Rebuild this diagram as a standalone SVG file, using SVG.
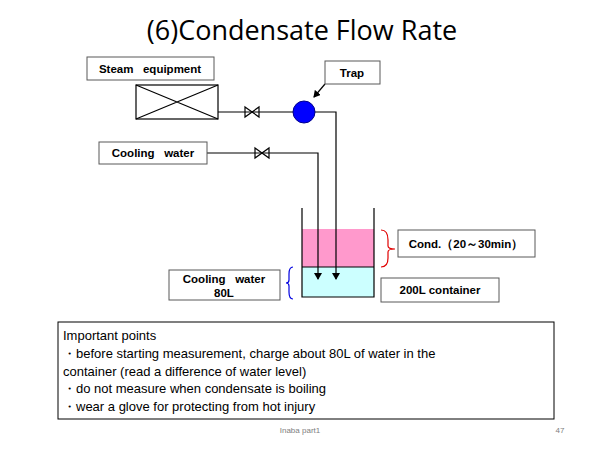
<svg xmlns="http://www.w3.org/2000/svg" width="600" height="450" viewBox="0 0 600 450" xml:space="preserve">
<defs>
<style>
.box{fill:#fff;stroke:#595959;stroke-width:1}
.lbl{font-family:"Liberation Sans",Arial,sans-serif;font-size:11.5px;font-weight:bold;fill:#000;white-space:pre}
.ln{fill:none;stroke:#000;stroke-width:1.2}
.t{font-family:"Liberation Sans",Arial,sans-serif;font-size:13px;fill:#000}
</style>
<marker id="ah" markerWidth="8" markerHeight="8" refX="6" refY="4" orient="auto" markerUnits="userSpaceOnUse"><path d="M0,0 L7,4 L0,8 z" fill="#000"/></marker>
</defs>
<rect width="600" height="450" fill="#fff"/>
<text x="302" y="40" text-anchor="middle" font-family="'Open Sans','Liberation Sans',sans-serif" font-size="27">(6)Condensate Flow Rate</text>
<g id="container">
<rect x="302" y="229" width="72" height="38" fill="#ff99cc"/>
<rect x="302" y="267" width="72" height="30" fill="#ccffff"/>
<path class="ln" d="M302,208 V297 H374 V208 M302,267 H374"/>
</g>
<g id="connectors">
<path class="ln" d="M218,112 H293"/>
<path class="ln" d="M315,112 H336 V279" marker-end="url(#ah)"/>
<path class="ln" d="M207,153 H318 V279" marker-end="url(#ah)"/>
<path class="ln" d="M245,107 L259,117 V107 L245,117 Z"/>
<path class="ln" d="M255,148 L269,158 V148 L255,158 Z"/>
<path class="ln" d="M325,84 L314,97" marker-end="url(#ah)"/>
<path d="M381,230 Q388,230 388,240 V246 Q388,249 395,249 Q388,249 388,252 V258 Q388,267 381,267" fill="none" stroke="#e00000" stroke-width="1.2"/>
<path d="M293,267 Q289,267 289,274 V280 Q289,283 286,283 Q289,283 289,286 V292 Q289,299 293,299" fill="none" stroke="#0000e0" stroke-width="1.2"/>
</g>
<g id="steam"><rect class="box" x="87" y="57" width="127" height="23"/><text class="lbl" x="150" y="73" text-anchor="middle">Steam   equipment</text></g>
<g id="equip"><rect x="136" y="85" width="82" height="34" fill="#fff" stroke="#000" stroke-width="1.2"/><path class="ln" d="M136,85 L218,119 M136,119 L218,85"/></g>
<g id="trap"><circle cx="304" cy="112" r="11" fill="#0000ff" stroke="#00008b"/><rect class="box" x="325" y="61" width="55" height="23"/><text class="lbl" x="352" y="77" text-anchor="middle">Trap</text></g>
<g id="cooling"><rect class="box" x="99" y="142" width="108" height="22"/><text class="lbl" x="153" y="157" text-anchor="middle">Cooling   water</text></g>
<g id="cond"><rect class="box" x="398" y="230" width="137" height="27"/><text class="lbl" x="466" y="248" text-anchor="middle">Cond.（20～30min）</text></g>
<g id="c200"><rect class="box" x="381" y="278" width="118" height="24"/><text class="lbl" x="440" y="294" text-anchor="middle">200L container</text></g>
<g id="cw80"><rect class="box" x="169" y="270" width="111" height="30"/><text class="lbl" x="224" y="283" text-anchor="middle">Cooling   water</text><text class="lbl" x="224" y="297" text-anchor="middle">80L</text></g>
<g id="points"><rect x="58" y="322" width="496" height="97" fill="#fff" stroke="#000" stroke-width="1"/>
<text class="t" x="63" y="340">Important points</text>
<text class="t" x="63" y="358">・before starting measurement, charge about 80L of water in the</text>
<text class="t" x="63" y="376">container (read a difference of water level)</text>
<text class="t" x="63" y="393">・do not measure when condensate is boiling</text>
<text class="t" x="63" y="411">・wear a glove for protecting from hot injury</text></g>
<text x="300" y="433" text-anchor="middle" font-family="'Liberation Sans',sans-serif" font-size="8" fill="#808080">Inaba part1</text>
<text x="560" y="433" text-anchor="middle" font-family="'Liberation Sans',sans-serif" font-size="8" fill="#808080">47</text>
</svg>
